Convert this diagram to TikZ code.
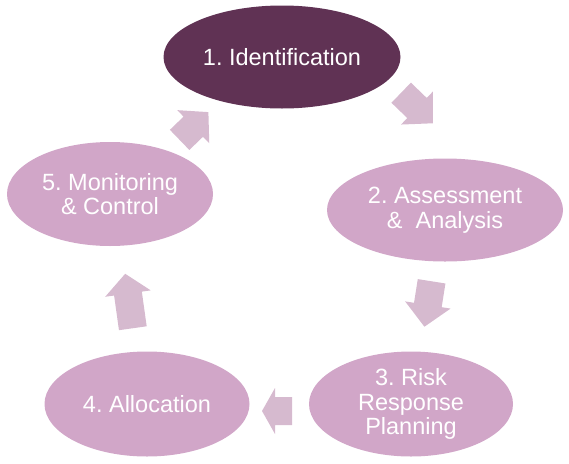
\documentclass[tikz,border=0pt]{standalone}
\usepackage{fontspec}
\setmainfont{Liberation Sans}
\usetikzlibrary{shapes.geometric}
\frenchspacing

\definecolor{stagedark}{RGB}{96,50,84}
\definecolor{stagelight}{RGB}{209,166,200}
\definecolor{arrowpink}{RGB}{214,186,207}

\begin{document}
\begin{tikzpicture}[x=1pt,y=-1pt,
    stage/.style={ellipse,fill=stagelight,text=white,inner sep=0pt,align=center,
      font=\fontsize{23.5}{24.5}\selectfont},
    firststage/.style={stage,fill=stagedark},
    cyclearrow/.style={fill=arrowpink}]
  \useasboundingbox (0,0) rectangle (569,463);
  % stages
  \node[firststage,minimum width=237pt,minimum height=103pt] (ident) at (282,57) {1. Identification};
  \node[stage,minimum width=236pt,minimum height=103pt] (assess) at (445,210) {2. Assessment\\\&\ \ Analysis};
  \node[stage,minimum width=204pt,minimum height=105pt] (response) at (411,404) {3. Risk\\Response\\Planning};
  \node[stage,minimum width=205pt,minimum height=105pt] (alloc) at (147,404) {4. Allocation};
  \node[stage,minimum width=206pt,minimum height=104pt] (monitor) at (110,194) {5. Monitoring\\\& Control};
  % block arrows between the stages
  \fill[cyclearrow,shift={(417,108)},rotate=-44]
    (-22,-14) -- (0,-14) -- (0,-23) -- (22,0) -- (0,23) -- (0,14) -- (-22,14) -- cycle;
  \fill[cyclearrow,shift={(428,304)},rotate=-99]
    (-23,-14) -- (1,-14) -- (1,-23) -- (23,0) -- (1,23) -- (1,14) -- (-23,14) -- cycle;
  \fill[cyclearrow,shift={(277,411)},rotate=180]
    (-15,-14) -- (2,-14) -- (2,-23) -- (15,0) -- (2,23) -- (2,14) -- (-15,14) -- cycle;
  \fill[cyclearrow,shift={(129,301)},rotate=98]
    (-27.5,-14) -- (7.5,-14) -- (7.5,-23) -- (27.5,0) -- (7.5,23) -- (7.5,14) -- (-27.5,14) -- cycle;
  \fill[cyclearrow,shift={(194,126)},rotate=44]
    (-20,-14) -- (-1,-14) -- (-1,-23) -- (20,0) -- (-1,23) -- (-1,14) -- (-20,14) -- cycle;
\end{tikzpicture}
\end{document}
